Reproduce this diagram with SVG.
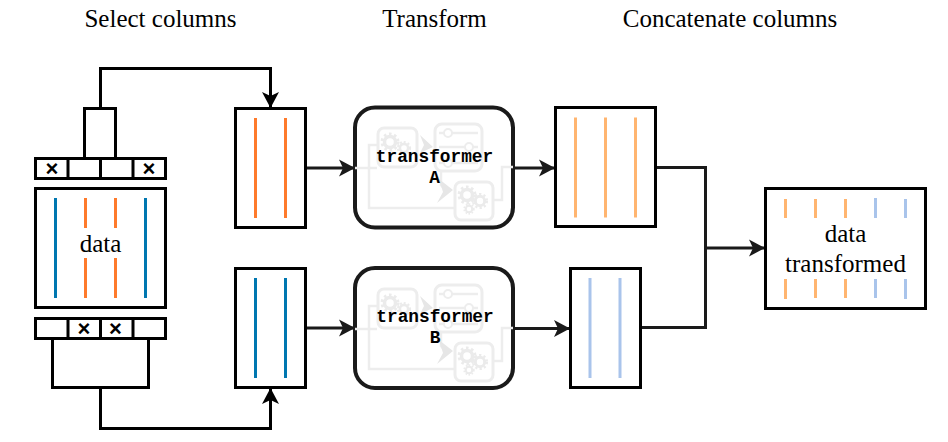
<svg xmlns="http://www.w3.org/2000/svg" xmlns:xlink="http://www.w3.org/1999/xlink" width="948" height="442" viewBox="0 0 948 442">
<style>
text{font-family:"Liberation Serif","Times New Roman",serif;font-size:25px;fill:#000;text-anchor:middle}
.box{fill:#fff;stroke:#000;stroke-width:3}
.tf{fill:#fff;stroke:#1a1a1a;stroke-width:4}
.mono{font-family:"Liberation Mono","Courier New",monospace;font-size:17.8px;font-weight:bold}
.x{font-family:"Liberation Sans",Arial,sans-serif;font-size:22px;font-weight:bold}
.o{stroke:#fe7a2b;stroke-width:3;fill:none}
.b{stroke:#0077b0;stroke-width:3;fill:none}
.lo{stroke:#ffb570;stroke-width:3;fill:none}
.lb{stroke:#a9c4eb;stroke-width:3;fill:none}
.c{fill:none;stroke:#000;stroke-width:3}
.c2{fill:none;stroke:#1a1a1a;stroke-width:3}
.d{stroke:#000;stroke-width:3;fill:none}
.ic{fill:none;stroke:#ededed;stroke-width:2.5}
.icb{fill:#fff;stroke:#ededed;stroke-width:3}
.g{fill:none;stroke:#ebebeb;stroke-width:3.5}
.gd{fill:none;stroke:#ebebeb;stroke-width:3;stroke-dasharray:2.6 2.6}
</style>
<defs>
<marker id="arr" markerUnits="userSpaceOnUse" markerWidth="18" markerHeight="20" refX="16" refY="9" orient="auto"><path d="M16 9L0 0.5L4 9L0 17.500Z" fill="#000"/></marker>
<marker id="arr2" markerUnits="userSpaceOnUse" markerWidth="18" markerHeight="20" refX="16" refY="9" orient="auto"><path d="M16 9L0 0.5L4 9L0 17.500Z" fill="#1a1a1a"/></marker>
<g id="gear"><circle r="5.500" class="g"/><circle r="8" class="gd"/></g>
<g id="flow">
<path class="ic" d="M0 61H22M22 38H14V101H99M138 93H147V60H158"/>
<path d="M65 28L78 40L65 46L69 38Z" fill="#e6e6e6"/>
<path class="ic" d="M86 64V78L92 85"/>
<path d="M98 83L82 96L88 85L84 72Z" fill="#e6e6e6"/>
<rect class="icb" x="23" y="21" width="39" height="39" rx="6"/>
<use xlink:href="#gear" x="35" y="35"/><use xlink:href="#gear" transform="translate(49 41) scale(.75)"/>
<rect class="icb" x="80" y="17" width="47" height="47" rx="7"/>
<path class="ic" d="M84 26H123M84 40H123M84 56H123"/>
<circle cx="93" cy="26" r="4" fill="#fff" stroke="#ededed" stroke-width="2"/><circle cx="114" cy="40" r="4" fill="#fff" stroke="#ededed" stroke-width="2"/><circle cx="93" cy="56" r="4" fill="#fff" stroke="#ededed" stroke-width="2"/>
<rect class="icb" x="100" y="75" width="38" height="38" rx="6"/>
<use xlink:href="#gear" x="112" y="88"/><use xlink:href="#gear" transform="translate(125 94) scale(.85)"/><use xlink:href="#gear" transform="translate(114 102) scale(.6)"/>
</g>
</defs>

<g id="titles">
<text x="160.500" y="27">Select columns</text>
<text x="434.500" y="27">Transform</text>
<text x="730" y="27">Concatenate columns</text>
</g>

<g id="connectors">
<path class="c" d="M100.500 108V68.500H270.500V108" marker-end="url(#arr)"/>
<path class="c" d="M100.500 388V428.500H270.500V388" marker-end="url(#arr)"/>
<path class="c2" d="M305.500 168H355" marker-end="url(#arr2)"/>
<path class="c2" d="M305.500 328H355" marker-end="url(#arr2)"/>
<path class="c2" d="M513 168H555" marker-end="url(#arr2)"/>
<path class="c2" d="M513 328.500H570" marker-end="url(#arr2)"/>
<path class="c2" d="M655 167.500H705.500V327.500H640"/>
<path class="c2" d="M705.500 248H765" marker-end="url(#arr2)"/>
</g>

<g id="select-top">
<rect class="box" x="84.500" y="108.500" width="31" height="50"/>
<rect class="box" x="35.500" y="158.500" width="130" height="20"/>
<path class="d" d="M68 158V179M100.500 158V179M133 158V179"/>
<text class="x" x="52" y="176">×</text>
<text class="x" x="149" y="176">×</text>
</g>

<g id="data">
<rect class="box" x="35.500" y="188.500" width="130" height="119"/>
<path class="b" d="M55.500 198V298M145.500 198V298"/>
<path class="o" d="M85.500 198V228M115.500 198V228M85.500 258V298M115.500 258V298"/>
<text x="100.500" y="251.500">data</text>
</g>

<g id="select-bottom">
<rect class="box" x="52.500" y="338.500" width="96" height="49"/>
<rect class="box" x="35.500" y="318.500" width="130" height="20"/>
<path class="d" d="M68 318V339M100.500 318V339M133 318V339"/>
<text class="x" x="84" y="336">×</text>
<text class="x" x="115.500" y="336">×</text>
</g>

<g id="columns-a">
<rect class="box" x="235.500" y="108.500" width="70" height="119"/>
<path class="o" d="M255.500 118V218M285.500 118V218"/>
</g>
<g id="columns-b">
<rect class="box" x="235.500" y="268.500" width="70" height="119"/>
<path class="b" d="M255.500 278V378M285.500 278V378"/>
</g>

<g id="transformer-a">
<rect class="tf" x="355" y="107.500" width="158" height="120" rx="20"/>
<use xlink:href="#flow" x="355" y="107"/>
<text class="mono" x="434.500" y="162">transformer</text>
<text class="mono" x="434.500" y="183">A</text>
</g>
<g id="transformer-b">
<rect class="tf" x="355" y="268" width="158" height="120" rx="20"/>
<use xlink:href="#flow" x="355" y="268"/>
<text class="mono" x="435" y="322">transformer</text>
<text class="mono" x="435" y="343">B</text>
</g>

<g id="output-a">
<rect class="box" x="555.500" y="107.500" width="100" height="119"/>
<path class="lo" d="M575.500 117.500V217.500M605.500 117.500V217.500M635.500 117.500V217.500"/>
</g>
<g id="output-b">
<rect class="box" x="570.500" y="268.500" width="70" height="119"/>
<path class="lb" d="M590 278V378M620 278V378"/>
</g>

<g id="data-transformed">
<rect class="box" x="765.500" y="188.500" width="160" height="120"/>
<path class="lo" d="M785.500 199V218M815.500 199V218M845.500 199V218M785.500 279V299M815.500 279V298M845.500 279V298"/>
<path class="lb" d="M875.500 198V218M905.500 199V218M875.500 279V298M905.500 279V299"/>
<text x="845.500" y="242">data</text>
<text x="845.500" y="272">transformed</text>
</g>
</svg>
